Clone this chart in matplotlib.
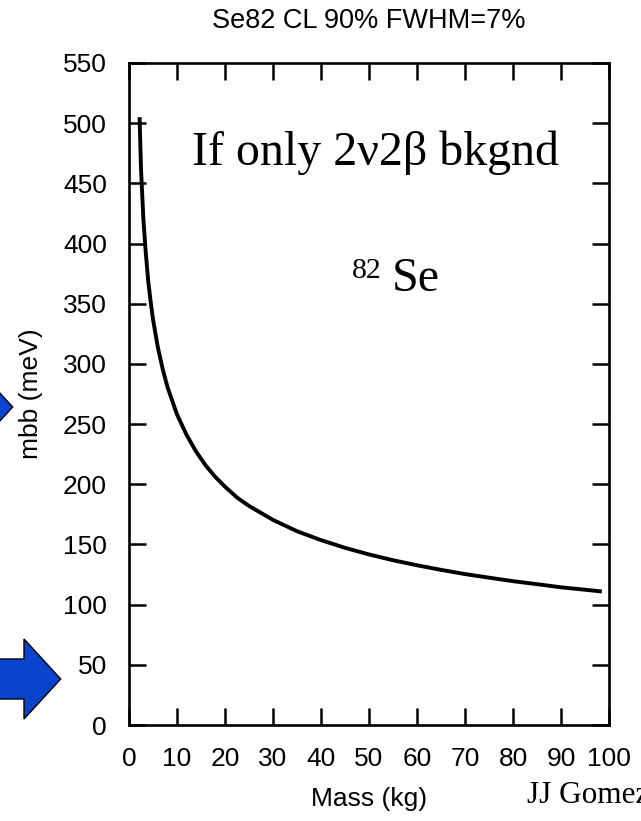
import matplotlib
matplotlib.use("Agg")
import matplotlib.pyplot as plt
from matplotlib.patches import Polygon

# Sensitivity curve: 90% CL limit on mbb versus source mass for Se82
mass_kg = [2.2, 2.5, 3, 3.5, 4, 4.5, 5, 6, 7, 8, 10, 12, 14, 16, 18, 20,
           22.5, 25, 30, 35, 40, 45, 50, 55, 60, 65, 70, 75, 80, 85, 90,
           95, 98.5]
mbb_mev = [505, 462, 420, 392, 369, 352, 337, 314, 296, 281, 258, 241,
           227, 215.5, 206, 198, 189, 182, 170.4, 161, 153.6, 147.2, 141.7,
           136.9, 132.7, 128.9, 125.4, 122.4, 119.5, 117, 114.4, 112.4,
           110.9]

x_ticks = list(range(0, 101, 10))
y_ticks = list(range(0, 551, 50))

W, H = 641, 821
fig = plt.figure(figsize=(W / 100, H / 100), dpi=100)
fig.patch.set_facecolor("white")

def fx(px):
    return px / W

def fy(py):
    return 1 - py / H

left, right, top, bottom = 129, 609, 63, 725
ax = fig.add_axes([fx(left), fy(bottom), (right - left) / W, (bottom - top) / H])

sans = "Liberation Sans"
serif = "Liberation Serif"

ax.plot(mass_kg, mbb_mev, color="black", lw=2.8, solid_capstyle="butt",
        solid_joinstyle="round")
ax.set_xlim(0, 100)
ax.set_ylim(0, 550)
ax.set_xticks(x_ticks)
ax.set_yticks(y_ticks)
ax.tick_params(direction="in", top=True, right=True, length=12, width=1.8,
               labelsize=19, pad=16)
for lab in ax.get_xticklabels() + ax.get_yticklabels():
    lab.set_fontfamily(sans)
for s in ax.spines.values():
    s.set_linewidth(1.9)

# Titles and axis labels
fig.text(fx(369), fy(28), "Se82 CL 90% FWHM=7%", ha="center", va="baseline",
         fontsize=19.5, family=sans)
fig.text(fx(31), fy(394), "mbb (meV)", rotation=90, ha="center", va="center",
         fontsize=19, family=sans)
fig.text(fx(369), fy(806), "Mass (kg)", ha="center", va="baseline",
         fontsize=19, family=sans)

# Annotations
fig.text(fx(192), fy(165), "If only 2ν2β bkgnd", ha="left", va="baseline",
         fontsize=34.5, family=serif)
fig.text(fx(352), fy(278), "82", ha="left", va="baseline",
         fontsize=21.5, family=serif)
fig.text(fx(392), fy(291), "Se", ha="left", va="baseline",
         fontsize=34.5, family=serif)
fig.text(fx(527), fy(803), "JJ Gomez", ha="left", va="baseline",
         fontsize=22.5, family=serif)

# Blue pointer arrows at the left edge
blue = "#0a44cc"

def arrow(tip_x, tip_y):
    pts = [(tip_x - 100, tip_y - 20), (tip_x - 36.7, tip_y - 20),
           (tip_x - 36.7, tip_y - 40), (tip_x, tip_y),
           (tip_x - 36.7, tip_y + 40), (tip_x - 36.7, tip_y + 20),
           (tip_x - 100, tip_y + 20)]
    poly = Polygon([(fx(x), fy(y)) for x, y in pts], closed=True,
                   transform=fig.transFigure, facecolor=blue,
                   edgecolor="black", lw=1.0, clip_on=False)
    fig.patches.append(poly)

arrow(60.7, 679)
arrow(12.7, 407)

fig.savefig("out.png", dpi=100)
